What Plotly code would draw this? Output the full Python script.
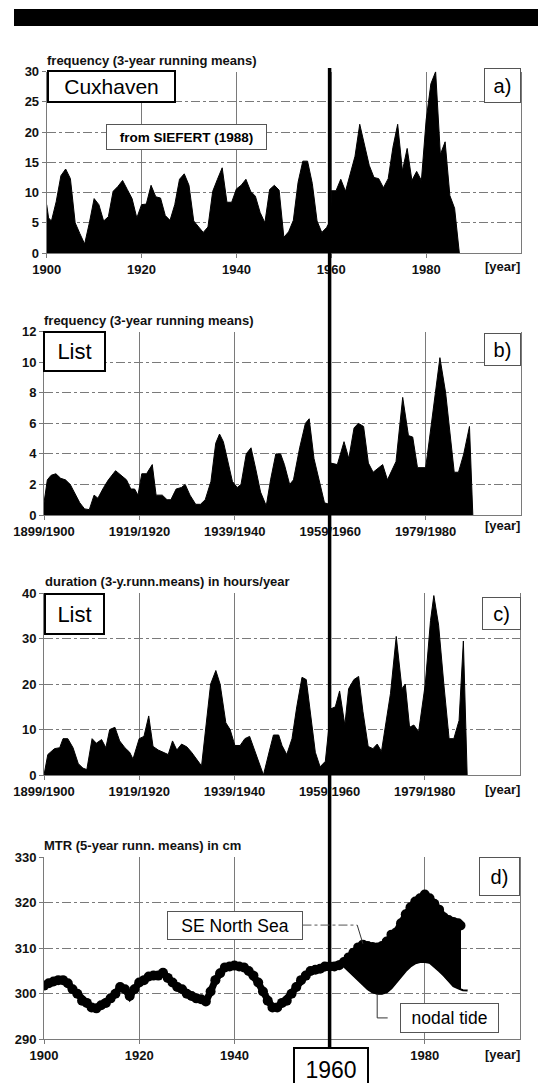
import plotly.graph_objects as go

W, H = 538, 1083

# ---------------- data ----------------
# a) Cuxhaven, frequency (3-year running means)
A_YEARS = [1900, 1900.4, 1901, 1902, 1903, 1904, 1905, 1906, 1907, 1908, 1909, 1910, 1911, 1912,
           1913, 1914, 1915, 1916, 1917, 1918, 1919, 1920, 1921, 1922, 1923, 1924, 1925, 1926,
           1927, 1928, 1929, 1930, 1931, 1932, 1933, 1934, 1935, 1936, 1937, 1938, 1939, 1940,
           1941, 1942, 1943, 1944, 1945, 1946, 1947, 1948, 1949, 1950, 1951, 1952, 1953, 1954,
           1955, 1956, 1957, 1958, 1959, 1959.9, 1960, 1961, 1962, 1963, 1964, 1965, 1966, 1967,
           1968, 1969, 1970, 1971, 1972, 1973, 1974, 1975, 1976, 1977, 1978, 1979, 1980, 1981,
           1982, 1983, 1984, 1985, 1986, 1987]
A_FREQ = [8.0, 5.8, 5.3, 8.5, 12.8, 13.9, 12.3, 5.0, 3.2, 1.5, 5.0, 9.0, 8.0, 5.3,
          6.0, 10.2, 11.0, 12.0, 10.5, 9.0, 5.8, 8.0, 8.1, 11.2, 9.3, 9.1, 6.2, 5.4,
          8.0, 12.2, 13.1, 11.2, 5.3, 4.3, 3.4, 4.3, 10.2, 12.2, 14.1, 8.4, 8.4, 10.6,
          11.2, 12.2, 10.2, 9.4, 6.7, 5.0, 10.5, 11.2, 10.4, 2.6, 3.5, 5.4, 11.7, 15.2,
          15.2, 11.5, 5.3, 3.4, 4.2, 5.5, 10.3, 10.3, 12.2, 10.2, 13.2, 16.0, 21.3, 17.8,
          14.5, 12.5, 12.3, 10.8, 12.3, 17.5, 21.3, 13.6, 17.3, 12.0, 13.5, 12.0, 22.0, 28.0,
          30.0, 16.3, 18.4, 9.5, 7.4, 0.0]

# b) List, frequency (3-year running means)
B_YEARS = [1900, 1900.7, 1901.5, 1902.5, 1903.5, 1904.5, 1905.5, 1906.5, 1907.5, 1908.5, 1909.5,
           1910.5, 1911.3, 1912.5, 1913.5, 1915, 1916.2, 1917.3, 1918.2, 1919, 1919.7, 1920.5,
           1921.5, 1922.7, 1923.5, 1924.8, 1925.8, 1926.6, 1927.7, 1928.8, 1929.6, 1930.6,
           1931.8, 1932.8, 1933.8, 1935, 1936, 1936.8, 1937.6, 1938.5, 1939.5, 1940.5, 1941.3,
           1942.4, 1943.4, 1944.4, 1945.4, 1946.6, 1947.5, 1948.6, 1949.6, 1950.4, 1951.5,
           1952.3, 1953.6, 1954.8, 1955.6, 1956.6, 1957.8, 1958.8, 1959.8, 1960.1, 1961.5,
           1962.9, 1963.9, 1965, 1965.9, 1967, 1968, 1969, 1971, 1972, 1973.8, 1975.2, 1976.4,
           1977.3, 1978.3, 1980, 1980.4, 1983, 1984.2, 1986, 1986.9, 1988, 1989.2, 1989.9]
B_FREQ = [0.8, 2.3, 2.6, 2.7, 2.4, 2.3, 2.0, 1.4, 0.8, 0.4, 0.35,
          1.3, 1.1, 1.8, 2.3, 2.9, 2.6, 2.3, 1.7, 1.7, 1.3, 2.7,
          2.7, 3.3, 1.3, 1.3, 1.0, 1.0, 1.7, 1.8, 2.0, 1.3,
          0.7, 0.7, 1.0, 2.2, 4.7, 5.3, 4.8, 3.5, 2.2, 1.8, 2.0,
          4.0, 4.4, 3.0, 1.5, 0.6, 2.3, 4.0, 4.0, 3.3, 2.0,
          2.3, 4.4, 6.0, 6.3, 3.7, 2.0, 0.8, 0.7, 3.4, 3.3,
          4.8, 3.7, 5.7, 6.0, 5.8, 3.4, 2.8, 3.3, 2.3, 3.5, 7.7, 5.2,
          5.1, 3.1, 3.1, 4.0, 10.3, 8.0, 2.8, 2.8, 4.0, 5.8, 0.0]

# c) List, duration (3-y. running means) in hours/year
C_YEARS = [1900, 1900.8, 1902.2, 1903.3, 1904, 1905, 1906.1, 1907.2, 1908.2, 1909, 1910.1, 1911,
           1912.1, 1913, 1913.8, 1914.9, 1915.9, 1917, 1918, 1918.7, 1920, 1921, 1922, 1922.9,
           1924, 1925.1, 1926.1, 1927, 1927.9, 1928.9, 1930, 1931, 1932.1, 1933.1, 1935, 1936.1,
           1937, 1938.2, 1939.1, 1940.1, 1941.2, 1942.2, 1943.2, 1944.4, 1946.1, 1947.4, 1948.2,
           1949.3, 1950, 1951, 1952.1, 1953.1, 1954.2, 1955.1, 1955.9, 1957, 1958, 1959.1,
           1959.8, 1960.1, 1961.2, 1962.1, 1963.2, 1964, 1965.1, 1966.1, 1967, 1968.1, 1969.1,
           1970, 1970.9, 1971.7, 1972.8, 1974, 1975.2, 1975.9, 1976.8, 1977.7, 1978.7, 1980.1,
           1981.2, 1981.9, 1982.9, 1984, 1985.1, 1986.1, 1987.2, 1988.1, 1988.9]
C_HOURS = [0.0, 4.5, 5.8, 6.0, 8.0, 8.0, 6.0, 2.5, 1.5, 1.2, 8.0, 7.0,
           7.8, 6.0, 10.0, 10.5, 7.5, 6.0, 5.0, 3.5, 8.0, 8.5, 13.0, 6.3,
           5.5, 5.0, 4.5, 7.5, 5.5, 6.8, 6.2, 5.0, 3.5, 2.0, 20.0, 23.0,
           20.0, 11.5, 10.0, 6.5, 6.5, 8.0, 8.5, 5.0, 0.0, 5.5, 8.8,
           8.8, 6.5, 4.5, 8.0, 15.0, 21.5, 21.0, 14.0, 5.0, 1.8, 3.0,
           10.0, 14.5, 15.0, 18.5, 11.0, 19.0, 21.0, 21.7, 14.0, 6.3, 5.8,
           6.8, 5.2, 11.0, 18.0, 30.5, 19.0, 20.0, 10.5, 11.0, 9.5, 20.0,
           34.0, 39.5, 33.0, 20.0, 8.0, 8.0, 12.0, 29.5, 0.0]

# d) MTR (5-year running means) in cm, SE North Sea
D_YEARS = list(range(1900, 1988)) + [1987.5]
D_MTR = [301.8, 302.3, 302.7, 303.0, 303.0, 302.3, 301.0, 300.0, 298.5, 298.0,
         297.0, 296.8, 297.5, 298.0, 299.0, 300.0, 301.5, 301.0, 299.5, 301.0,
         302.5, 303.0, 303.8, 304.0, 304.0, 304.6, 303.5, 302.5, 301.5, 301.0,
         300.0, 299.5, 299.0, 298.8, 298.3, 300.5, 303.0, 304.5, 305.8, 306.0,
         306.2, 306.0, 305.8, 305.0, 304.0, 302.5, 300.5, 298.5, 297.0, 297.0,
         298.0, 298.5, 300.0, 301.5, 303.0, 304.0, 305.0, 305.3, 305.5, 306.0,
         306.0, 306.0, 306.3, 307.0, 308.0, 309.0, 310.2, 310.8, 310.5, 310.3,
         310.2, 310.5, 311.5, 313.0, 313.5, 315.5, 317.5, 319.0, 320.3, 321.0,
         321.8, 321.0, 319.8, 318.5, 316.8, 316.2, 315.8, 315.5, 315.0]
# nodal tide curve
N_YEARS = [1962, 1963, 1964, 1965, 1966, 1967, 1968, 1969, 1970, 1971, 1972, 1973, 1974, 1975,
           1976, 1977, 1978, 1979, 1980, 1981, 1982, 1983, 1984, 1985, 1986, 1987, 1987.5, 1988,
           1989]
N_MTR = [306.3, 306.0, 305.0, 304.0, 303.0, 302.0, 301.0, 300.3, 300.0, 300.0, 300.3, 301.2,
         302.5, 303.8, 305.0, 306.0, 306.7, 307.0, 307.0, 306.8, 306.0, 305.0, 304.0, 302.8,
         301.7, 301.2, 301.0, 300.8, 300.7]

X_TICKS = [1900, 1920, 1940, 1960, 1980]
X_LABELS_YEAR = ["1900", "1920", "1940", "1960", "1980"]
X_LABELS_D = ["1900", "1920", "1940", "", "1980"]   # 1960 is hidden behind the "1960" box
X_LABELS_WINTER = ["1899/1900", "1919/1920", "1939/1940", "1959/1960", "1979/1980"]
YT_A = [0, 5, 10, 15, 20, 25, 30]
YT_B = [0, 2, 4, 6, 8, 10, 12]
YT_C = [0, 10, 20, 30, 40]
YT_D = [290, 300, 310, 320, 330]

# ---------------- layout helpers ----------------
def px(x):
    return x / W


def py(y):
    return 1 - y / H


TICKFONT = dict(family="Liberation Sans", size=13, color="#111", weight="bold")
GRID = "#7a7a7a"

fig = go.Figure()

panels = [
    dict(x0=46.7, x1=521, top=71.7, bot=253, yr=[0, 30], yt=YT_A, xl=X_LABELS_YEAR),
    dict(x0=44, x1=521, top=331.7, bot=515, yr=[0, 12], yt=YT_B, xl=X_LABELS_WINTER),
    dict(x0=44, x1=520, top=593.3, bot=775, yr=[0, 40], yt=YT_C, xl=X_LABELS_WINTER),
    dict(x0=44, x1=520, top=857.3, bot=1039.3, yr=[290, 330], yt=YT_D, xl=X_LABELS_D),
]

for i, p in enumerate(panels, start=1):
    xa = dict(domain=[px(p["x0"]), px(p["x1"])], range=[1900, 2000], anchor=f"y{i}",
              tickvals=X_TICKS, ticktext=p["xl"], tickfont=TICKFONT, automargin=False,
              showgrid=True, gridcolor=GRID, gridwidth=1,
              showline=True, linecolor=GRID, linewidth=1,
              ticks="outside", ticklen=4, tickcolor=GRID, zeroline=False)
    ya = dict(domain=[py(p["bot"]), py(p["top"])], range=p["yr"], anchor=f"x{i}",
              tickvals=p["yt"], tickfont=TICKFONT, automargin=False,
              showgrid=True, gridcolor=GRID, gridwidth=1, griddash="dashdot",
              showline=True, linecolor=GRID, linewidth=1, mirror=True,
              ticks="outside", ticklen=4, tickcolor=GRID, zeroline=False)
    fig.layout[f"xaxis{i}" if i > 1 else "xaxis"] = xa
    fig.layout[f"yaxis{i}" if i > 1 else "yaxis"] = ya

# filled series
for i, (xs, ys) in enumerate([(A_YEARS, A_FREQ), (B_YEARS, B_FREQ), (C_YEARS, C_HOURS)], start=1):
    fig.add_trace(go.Scatter(x=xs, y=ys, mode="lines", fill="tozeroy", fillcolor="black",
                             line=dict(color="black", width=1), xaxis=f"x{i}", yaxis=f"y{i}",
                             showlegend=False, hoverinfo="skip"))

# panel d: fill between SE North Sea and nodal tide
se_part_x = [x for x in D_YEARS if x >= 1962]
se_part_y = [y for x, y in zip(D_YEARS, D_MTR) if x >= 1962]
nd_part_x = [x for x in N_YEARS if x <= 1987.5]
nd_part_y = [y for x, y in zip(N_YEARS, N_MTR) if x <= 1987.5]
fig.add_trace(go.Scatter(x=se_part_x + nd_part_x[::-1], y=se_part_y + nd_part_y[::-1],
                         mode="lines", fill="toself", fillcolor="black",
                         line=dict(color="black", width=1), xaxis="x4", yaxis="y4",
                         showlegend=False, hoverinfo="skip"))
fig.add_trace(go.Scatter(x=N_YEARS, y=N_MTR, mode="lines", line=dict(color="black", width=2),
                         xaxis="x4", yaxis="y4", showlegend=False, hoverinfo="skip"))
fig.add_trace(go.Scatter(x=D_YEARS, y=D_MTR, mode="lines+markers",
                         line=dict(color="black", width=7),
                         marker=dict(color="black", size=10),
                         xaxis="x4", yaxis="y4", showlegend=False, hoverinfo="skip"))

shapes = []
# top black bar
shapes.append(dict(type="rect", xref="paper", yref="paper", x0=px(14), x1=1, y0=py(26), y1=py(9),
                   fillcolor="black", line=dict(width=0)))
# thick 1960 marker line through all panels
shapes.append(dict(type="line", xref="x4", yref="paper", x0=1960, x1=1960, y0=py(1048), y1=py(68),
                   line=dict(color="black", width=3.5), layer="above"))
# leader lines panel d
shapes.append(dict(type="line", xref="x4", yref="y4", x0=1954.3, x1=1965.8, y0=315.1, y1=315.1,
                   line=dict(color="#555", width=1, dash="dashdot")))
shapes.append(dict(type="line", xref="x4", yref="y4", x0=1965.8, x1=1967.0, y0=315.1, y1=311.0,
                   line=dict(color="#333", width=1)))
shapes.append(dict(type="line", xref="x4", yref="y4", x0=1970.0, x1=1970.0, y0=300.0, y1=294.7,
                   line=dict(color="#333", width=1)))
shapes.append(dict(type="line", xref="x4", yref="y4", x0=1970.0, x1=1972.2, y0=294.7, y1=294.7,
                   line=dict(color="#333", width=1)))
fig.update_layout(shapes=shapes)

annotations = []


def box(text, x0, y0, x1, y1, size, bw=1, bc="#555", bold=False):
    annotations.append(dict(
        text=text, xref="paper", yref="paper", x=px(x0), y=py(y0),
        xanchor="left", yanchor="top", showarrow=False,
        width=max(1, x1 - x0 - 2 * bw), height=max(1, y1 - y0 - 2 * bw),
        borderwidth=bw, bordercolor=bc, borderpad=0, bgcolor="white",
        font=dict(family="Liberation Sans", size=size, color="black",
                  weight="bold" if bold else "normal"),
        align="center", valign="middle"))


def label(text, x, y, size=13, xanchor="left"):
    annotations.append(dict(
        text=text, xref="paper", yref="paper", x=px(x), y=py(y), xanchor=xanchor,
        yanchor="middle", showarrow=False,
        font=dict(family="Liberation Sans", size=size, color="#111", weight="bold")))


# panel a
box("Cuxhaven", 47, 70, 176, 103, 21, bw=2, bc="black")
box("from SIEFERT (1988)", 106, 124, 267, 150, 13.5, bold=True)
box("a)", 484, 68, 521, 103, 20)
# panel b
box("List", 43, 331, 106, 372, 22, bw=2, bc="black")
box("b)", 484, 333, 521, 366, 20)
# panel c
box("List", 44, 593, 105, 635, 22, bw=2, bc="black")
box("c)", 482, 597, 521, 630, 20)
# panel d
box("d)", 479, 857, 520, 896, 20)
box("SE North Sea", 167, 911, 303, 940, 17.5)
box("nodal tide", 400, 1003, 499, 1033, 17.5)
box("1960", 293, 1047, 369, 1092, 23, bw=2, bc="black")

label("frequency (3-year running means)", 45, 60)
label("frequency (3-year running means)", 42, 320)
label("duration (3-y.runn.means) in hours/year", 43, 581)
label("MTR (5-year runn. means) in cm", 42, 845)
for yy in (266.5, 525, 789.5, 1054.5):
    label("[year]", 522, yy, xanchor="right")

fig.update_layout(annotations=annotations)

fig.update_layout(width=W, height=H, margin=dict(l=0, r=0, t=0, b=0, pad=0, autoexpand=False),
                  paper_bgcolor="white", plot_bgcolor="white", showlegend=False)

fig.write_html("out.html", config={"displayModeBar": False, "staticPlot": True},
               post_script="document.body.style.margin='0px';document.body.style.overflow='hidden';")
